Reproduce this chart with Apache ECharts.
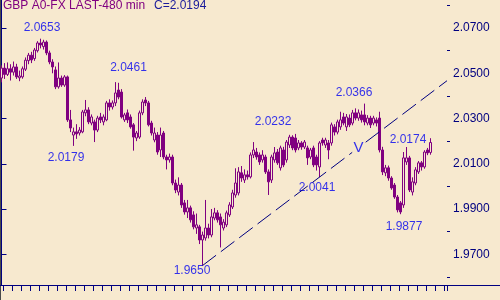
<!DOCTYPE html>
<html>
<head>
<meta charset="utf-8">
<script src="https://cdn.jsdelivr.net/npm/echarts@6/dist/echarts.min.js"></script>
<style>
html,body{margin:0;padding:0;background:#F7E9CF;}
#chart{width:500px;height:300px;}
</style>
</head>
<body>
<div id="chart"></div>
<script>
// ---- data (480-min bars) ----
const opens = [2.0479,2.0523,2.0495,2.0520,2.0505,2.0528,2.0480,2.0484,2.0518,2.0556,2.0580,2.0565,2.0600,2.0634,2.0618,2.0638,2.0590,2.0550,2.0515,2.0440,
2.0479,2.0448,2.0484,2.0294,2.0227,2.0241,2.0236,2.0241,2.0325,2.0338,2.0280,2.0285,2.0249,2.0307,2.0285,2.0294,2.0369,2.0351,2.0369,2.0426,
2.0417,2.0294,2.0325,2.0307,2.0272,2.0214,2.0218,2.0325,2.0382,2.0369,2.0280,2.0205,2.0227,2.0161,2.0236,2.0130,2.0117,2.0130,2.0015,1.9975,
2.0006,1.9927,1.9887,1.9905,1.9874,1.9816,1.9821,1.9763,1.9772,1.9816,1.9785,1.9860,1.9883,1.9865,1.9816,1.9830,1.9874,1.9909,1.9962,1.9971,
2.0060,2.0028,2.0051,2.0042,2.0139,2.0152,2.0139,2.0117,2.0130,2.0064,2.0028,2.0117,2.0152,2.0082,2.0161,2.0117,2.0183,2.0218,2.0214,2.0170,
2.0192,2.0174,2.0170,2.0130,2.0170,2.0130,2.0086,2.0205,2.0183,2.0192,2.0192,2.0263,2.0240,2.0263,2.0307,2.0263,2.0302,2.0280,2.0325,2.0302,
2.0316,2.0316,2.0280,2.0302,2.0280,2.0294,2.0302,2.0161,2.0060,2.0082,2.0037,2.0006,1.9953,1.9927,1.9918,2.0108,2.0126,1.9975,2.0015,2.0064,
2.0104,2.0086,2.0161,2.0150];
const closes = [2.0523,2.0495,2.0520,2.0505,2.0528,2.0484,2.0488,2.0520,2.0558,2.0580,2.0559,2.0603,2.0634,2.0625,2.0638,2.0590,2.0550,2.0528,2.0440,2.0479,
2.0448,2.0484,2.0294,2.0258,2.0241,2.0232,2.0249,2.0329,2.0338,2.0285,2.0307,2.0249,2.0302,2.0294,2.0307,2.0369,2.0351,2.0369,2.0413,2.0395,
2.0307,2.0316,2.0294,2.0263,2.0218,2.0236,2.0325,2.0373,2.0369,2.0272,2.0236,2.0236,2.0152,2.0227,2.0130,2.0117,2.0130,2.0015,1.9984,2.0006,
1.9918,1.9887,1.9905,1.9852,1.9821,1.9830,1.9763,1.9785,1.9816,1.9785,1.9865,1.9883,1.9852,1.9830,1.9842,1.9883,1.9918,1.9971,2.0015,2.0064,
2.0037,2.0051,2.0042,2.0139,2.0161,2.0130,2.0108,2.0139,2.0064,2.0020,2.0130,2.0148,2.0104,2.0170,2.0095,2.0196,2.0218,2.0170,2.0161,2.0192,
2.0174,2.0196,2.0126,2.0161,2.0095,2.0095,2.0192,2.0192,2.0205,2.0161,2.0272,2.0240,2.0285,2.0294,2.0280,2.0307,2.0272,2.0325,2.0302,2.0325,
2.0294,2.0285,2.0302,2.0272,2.0302,2.0280,2.0161,2.0064,2.0082,2.0037,1.9993,1.9953,1.9896,1.9887,2.0126,2.0126,1.9984,2.0020,2.0073,2.0104,
2.0086,2.0152,2.0148,2.0194];
const lows = [2.0460,2.0475,2.0488,2.0468,2.0490,2.0475,2.0465,2.0476,2.0510,2.0540,2.0545,2.0555,2.0592,2.0610,2.0605,2.0580,2.0540,2.0500,2.0430,2.0432,
2.0440,2.0440,2.0285,2.0240,2.0179,2.0210,2.0225,2.0235,2.0310,2.0275,2.0270,2.0196,2.0240,2.0280,2.0270,2.0288,2.0335,2.0340,2.0355,2.0385,
2.0300,2.0285,2.0280,2.0255,2.0158,2.0200,2.0210,2.0315,2.0355,2.0265,2.0225,2.0195,2.0140,2.0130,2.0120,2.0075,2.0105,2.0005,1.9970,1.9960,
1.9905,1.9875,1.9860,1.9840,1.9810,1.9790,1.9745,1.9650,1.9760,1.9770,1.9775,1.9850,1.9840,1.9730,1.9805,1.9820,1.9865,1.9900,1.9950,1.9960,
2.0020,2.0015,2.0030,2.0035,2.0125,2.0118,2.0095,2.0105,2.0055,1.9962,2.0015,2.0105,2.0095,2.0070,2.0085,2.0105,2.0170,2.0160,2.0150,2.0160,
2.0162,2.0165,2.0095,2.0120,2.0085,2.0070,2.0041,2.0180,2.0170,2.0120,2.0180,2.0225,2.0230,2.0250,2.0270,2.0245,2.0262,2.0270,2.0292,2.0290,
2.0282,2.0270,2.0270,2.0258,2.0270,2.0265,2.0150,2.0050,2.0045,2.0025,1.9985,1.9945,1.9885,1.9877,1.9905,2.0095,1.9975,1.9960,2.0005,2.0055,
2.0070,2.0078,2.0138,2.0140];
const highs = [2.0535,2.0545,2.0548,2.0540,2.0552,2.0542,2.0512,2.0530,2.0570,2.0590,2.0595,2.0612,2.0642,2.0653,2.0648,2.0645,2.0600,2.0562,2.0530,2.0548,
2.0490,2.0492,2.0490,2.0338,2.0260,2.0275,2.0262,2.0338,2.0382,2.0350,2.0318,2.0295,2.0312,2.0325,2.0318,2.0378,2.0385,2.0380,2.0461,2.0458,
2.0430,2.0325,2.0340,2.0318,2.0280,2.0245,2.0335,2.0385,2.0395,2.0378,2.0290,2.0260,2.0240,2.0260,2.0245,2.0140,2.0145,2.0140,2.0030,2.0040,
2.0015,1.9940,1.9940,1.9915,1.9890,1.9880,1.9830,1.9800,1.9940,1.9835,1.9900,1.9905,1.9895,1.9880,1.9855,1.9893,1.9930,1.9985,2.0080,2.0085,
2.0090,2.0075,2.0070,2.0150,2.0196,2.0170,2.0150,2.0160,2.0140,2.0075,2.0140,2.0174,2.0165,2.0180,2.0175,2.0205,2.0228,2.0226,2.0232,2.0205,
2.0200,2.0205,2.0180,2.0170,2.0180,2.0140,2.0200,2.0215,2.0215,2.0205,2.0282,2.0275,2.0295,2.0330,2.0325,2.0320,2.0318,2.0338,2.0345,2.0340,
2.0335,2.0366,2.0315,2.0312,2.0312,2.0305,2.0330,2.0175,2.0095,2.0092,2.0045,2.0015,1.9962,1.9935,2.0152,2.0174,2.0135,2.0040,2.0085,2.0112,
2.0112,2.0160,2.0170,2.0213];

const totalSlots = 149; // bar slots across the plot (some empty at right)
const categories = Array.from({length: totalSlots}, (_, i) => String(i));

const yLabelValues = [1.97, 1.99, 2.01, 2.03, 2.05, 2.07];
const yMinorValues = [1.96, 1.98, 2.00, 2.02, 2.04, 2.06, 2.08];

// annotated swing points: bar index and price
const annotIdx = [13, 38, 24, 98, 121, 135, 67, 106, 133];
const annotVal = [2.0653, 2.0461, 2.0179, 2.0232, 2.0366, 2.0174, 1.9650, 2.0041, 1.9877];
// trend line anchors (two lows)
const trendIdx = [67, 106];
const trendVal = [1.9650, 2.0041];

// ---- styling ----
const annotOffsets = [[1.5,-10.7],[13,-14],[-7.5,12],[-22.5,-12],[-10.5,-10.6],[1.5,-7],[-10.5,5.5],[-2.5,11],[3.5,12]];
const vMarkIdx = 119;           // where the "V" marker sits on the trend line
const vGap = [116.9, 121.4];    // break in the trend line around the marker
const BG = '#F7E9CF', PURPLE = '#800080', NAVY = '#000080', BLUE = '#0000F0';
const FONT = "'Liberation Sans', Arial, sans-serif";

const ohlc = opens.map((o, i) => [o, closes[i], lows[i], highs[i]]);
const slope = (trendVal[1] - trendVal[0]) / (trendIdx[1] - trendIdx[0]);
const trendAt = x => trendVal[0] + slope * (x - trendIdx[0]);
const trendEndIdx = totalSlots - 0.5;

const annotData = annotIdx.map((ix, k) => ({
  value: [ix, annotVal[k]],
  label: { offset: annotOffsets[k], formatter: annotVal[k].toFixed(4) }
}));
annotData.push({ value: [vMarkIdx, trendAt(vMarkIdx)], label: { offset: [0, 0], formatter: 'V', fontSize: 15 } });

const trendData = [
  [trendIdx[0], trendVal[0]], [vGap[0], trendAt(vGap[0])], '-',
  [vGap[1], trendAt(vGap[1])], [trendEndIdx, trendAt(trendEndIdx)]
];

const chart = echarts.init(document.getElementById('chart'), null, {renderer: 'canvas'});
chart.setOption({
  animation: false,
  backgroundColor: BG,
  title: [
    { text: 'GBP A0-FX LAST-480 min', left: 3, top: 0, padding: 0,
      textStyle: { color: PURPLE, fontSize: 12, fontWeight: 'normal', fontFamily: FONT } },
    { text: 'C=' + closes[closes.length - 1].toFixed(4), left: 154, top: 0, padding: 0,
      textStyle: { color: '#1a1a9a', fontSize: 12, fontWeight: 'normal', fontFamily: FONT } }
  ],
  grid: { left: 0, right: 53, top: 0, bottom: 15, containLabel: false },
  xAxis: [
    { type: 'category', data: categories, boundaryGap: true,
      axisLine: { show: true, lineStyle: { color: NAVY, width: 1 } },
      axisTick: { show: true, length: 6, interval: (index) => index % 3 === 1, lineStyle: { color: NAVY, width: 1 } },
      axisLabel: { show: false },
      splitLine: { show: false } },
    { type: 'value', min: -0.5, max: totalSlots - 0.5, show: false }
  ],
  yAxis: [
    { type: 'value', position: 'right', min: 1.9564, max: 2.0824, scale: true,
      axisLine: { show: true, lineStyle: { color: NAVY, width: 1 } },
      axisTick: { show: true, length: 5, customValues: yLabelValues, lineStyle: { color: NAVY } },
      axisLabel: { show: true, customValues: yLabelValues, margin: 6, color: NAVY, fontSize: 12, fontFamily: FONT,
        formatter: v => v.toFixed(4) },
      splitLine: { show: false } },
    { type: 'value', position: 'right', min: 1.9564, max: 2.0824, scale: true,
      axisLine: { show: false },
      axisTick: { show: true, length: 3, customValues: yMinorValues, lineStyle: { color: NAVY } },
      axisLabel: { show: false },
      splitLine: { show: false } }
  ],
  series: [
    { type: 'candlestick', data: ohlc, barWidth: 3,
      itemStyle: { color: BG, color0: PURPLE, borderColor: PURPLE, borderColor0: PURPLE, borderWidth: 1 } },
    { type: 'line', xAxisIndex: 1, yAxisIndex: 0, silent: true, symbol: 'none', connectNulls: false,
      lineStyle: { color: NAVY, width: 1, type: [17, 6] },
      data: trendData },
    { type: 'scatter', data: annotData, symbolSize: 1, itemStyle: { color: 'rgba(0,0,0,0)' }, silent: true,
      label: { show: true, position: 'inside', color: BLUE, fontSize: 12, fontFamily: FONT } }
  ],
  graphic: [
    { type: 'rect', shape: { x: 0, y: 0, width: 1, height: 300 }, style: { fill: '#4a4a4a' }, silent: true },
    { type: 'line', shape: { x1: 447, y1: 285.5, x2: 500, y2: 285.5 }, style: { stroke: NAVY, lineWidth: 1 }, silent: true }
  ]
});
</script>
</body>
</html>
